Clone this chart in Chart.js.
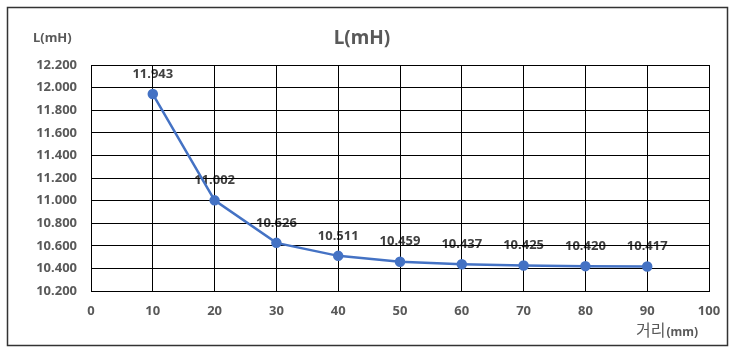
<!DOCTYPE html>
<html>
<head>
<meta charset="utf-8">
<script src="https://cdn.jsdelivr.net/npm/chart.js@4"></script>
<style>
  html, body { margin: 0; padding: 0; background: #fff; }
  #wrap { width: 733px; height: 351px; }
</style>
</head>
<body>
<div id="wrap"><canvas id="grafico" width="733" height="351"></canvas></div>
<script>
const distancias = [10, 20, 30, 40, 50, 60, 70, 80, 90];
const inductancia = [11.943, 11.002, 10.626, 10.511, 10.459, 10.437, 10.425, 10.420, 10.417];
const yMin = 10.2, yMax = 12.2, yPaso = 0.2;
const xMin = 0, xMax = 100, xPaso = 10;

const fuente = "'Noto Sans', 'Noto Sans CJK KR', sans-serif";
const gris = "#595959";

// texts and frame drawn straight on the canvas
const decoracion = {
  id: "decoracion",
  beforeDraw(chart) {
    const ctx = chart.ctx;
    ctx.save();
    ctx.fillStyle = "#fff";
    ctx.fillRect(0, 0, chart.width, chart.height);
    ctx.strokeStyle = "#333";
    ctx.lineWidth = 1.5;
    ctx.strokeRect(7.5, 7.5, 720, 338);

    ctx.fillStyle = gris;
    ctx.textBaseline = "middle";
    ctx.textAlign = "center";
    ctx.font = "bold 19px " + fuente;
    ctx.fillText("L(mH)", 362, 39);
    ctx.textAlign = "left";
    ctx.font = "bold 13px " + fuente;
    ctx.fillText("L(mH)", 33, 38);

    ctx.textBaseline = "alphabetic";
    ctx.font = "16px 'Noto Sans CJK KR', sans-serif";
    ctx.fillText("거리", 636, 336);
    const w = ctx.measureText("거리").width;
    ctx.font = "bold 12px " + fuente;
    ctx.fillText("(mm)", 636 + w + 1, 336);

    // value labels go under the grid, like the original
    const xs = chart.scales.x, ys = chart.scales.y;
    ctx.textAlign = "center";
    ctx.textBaseline = "middle";
    ctx.fillStyle = "#404040";
    ctx.font = "bold 13px " + fuente;
    inductancia.forEach((v, i) => {
      ctx.fillText(v.toFixed(3), xs.getPixelForValue(distancias[i]), ys.getPixelForValue(v) - 20);
    });
    ctx.restore();
  }
};

new Chart(document.getElementById("grafico"), {
  type: "line",
  data: {
    datasets: [{
      data: distancias.map((d, i) => ({ x: d, y: inductancia[i] })),
      borderColor: "#4472C4",
      backgroundColor: "#4472C4",
      borderWidth: 2.5,
      pointRadius: 4,
      pointHoverRadius: 4,
      tension: 0
    }]
  },
  options: {
    responsive: false,
    animation: false,
    events: [],
    layout: { padding: { left: 0, right: 24, top: 65, bottom: 0 } },
    plugins: { legend: { display: false }, tooltip: { enabled: false } },
    scales: {
      x: {
        type: "linear",
        min: xMin, max: xMax,
        ticks: { stepSize: xPaso, color: gris, padding: 12, font: { family: fuente, size: 13, weight: "bold" } },
        grid: { color: "#000", lineWidth: 1, drawTicks: false },
        border: { color: "#000", width: 1 },
        afterFit(scale) { scale.height = 60; }
      },
      y: {
        min: yMin, max: yMax,
        ticks: {
          stepSize: yPaso, color: gris, padding: 14,
          font: { family: fuente, size: 13, weight: "bold" },
          callback: (v) => Number(v).toFixed(3)
        },
        grid: { color: "#000", lineWidth: 1, drawTicks: false },
        border: { color: "#000", width: 1 },
        afterFit(scale) { scale.width = 91; }
      }
    }
  },
  plugins: [decoracion]
});
</script>
</body>
</html>
